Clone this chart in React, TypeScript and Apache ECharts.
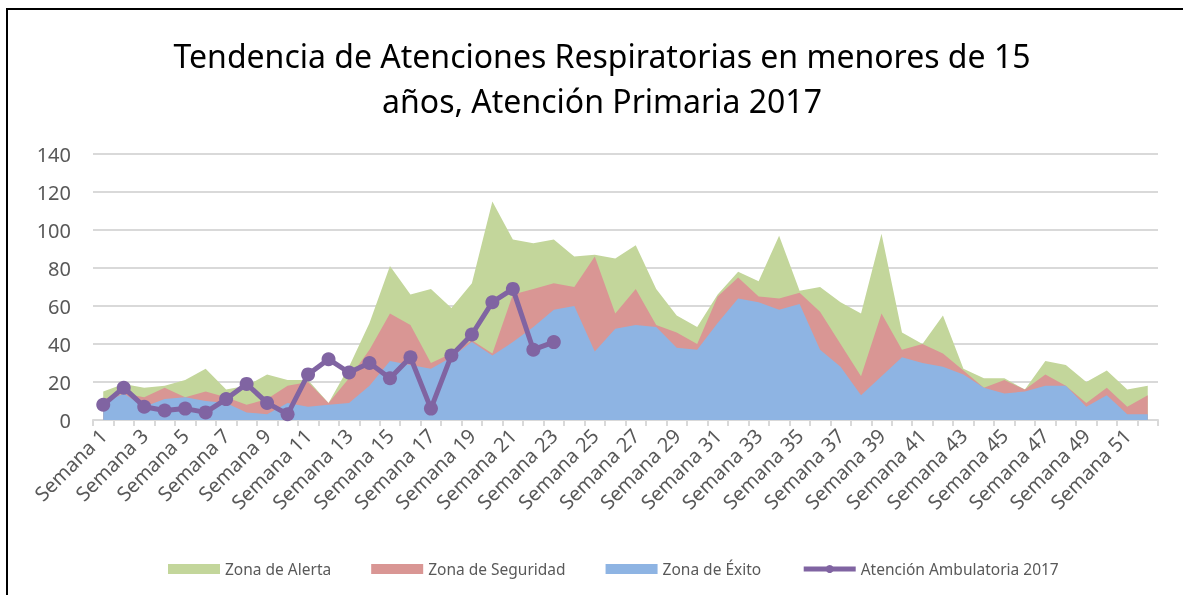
import React, { useEffect, useRef } from "react";
import * as echarts from "echarts";

const titleLines = ["Tendencia de Atenciones Respiratorias en menores de 15", "años, Atención Primaria 2017"];

const weeks: string[] = Array.from({ length: 52 }, (_, i) => `Semana ${i + 1}`);

const zonaAlerta = [15, 19, 17, 18, 21, 27, 16, 18, 24, 21, 21, 9, 28, 51, 81, 66, 69, 59, 72, 115, 95, 93, 95, 86, 87, 85, 92, 69, 55, 49, 66, 78, 73, 97, 68, 70, 62, 56, 98, 46, 40, 55, 27, 22, 22, 16, 31, 29, 20, 26, 16, 18];
const zonaSeguridad = [11, 14, 12, 17, 12, 15, 12, 8, 11, 18, 20, 9, 22, 37, 56, 50, 30, 35, 42, 35, 66, 69, 72, 70, 86, 56, 69, 50, 46, 40, 65, 75, 65, 64, 67, 57, 40, 23, 56, 37, 40, 35, 26, 17, 21, 16, 24, 18, 9, 17, 7, 13];
const zonaExito = [9, 14, 7, 11, 12, 10, 9, 4, 3, 9, 7, 8, 9, 18, 31, 29, 27, 33, 41, 34, 41, 49, 58, 60, 36, 48, 50, 49, 38, 37, 51, 64, 62, 58, 61, 37, 28, 13, 23, 33, 30, 28, 24, 17, 14, 15, 18, 18, 7, 13, 3, 3];
const atencion2017 = [8, 17, 7, 5, 6, 4, 11, 19, 9, 3, 24, 32, 25, 30, 22, 33, 6, 34, 45, 62, 69, 37, 41];

const FONT = "'Noto Sans', 'Open Sans', sans-serif";

export default function App() {
  const ref = useRef<HTMLDivElement>(null);
  useEffect(() => {
    if (!ref.current) return;
    const chart = echarts.init(ref.current, undefined, { renderer: "svg" });
    const area = (name: string, data: number[], color: string) => ({
      name,
      type: "line",
      data,
      symbol: "none",
      lineStyle: { width: 0, color },
      itemStyle: { color },
      areaStyle: { color, opacity: 1 },
    });
    chart.setOption({
      animation: false,
      textStyle: { fontFamily: FONT },
      graphic: [
        {
          type: "rect",
          shape: { x: 7, y: 9, width: 1200, height: 620 },
          style: { fill: "none", stroke: "#000", lineWidth: 2 },
          silent: true,
        },
        {
          type: "text",
          x: 602,
          y: 55,
          style: { text: titleLines[0], fontSize: 32, fontFamily: FONT, fill: "#000", align: "center", verticalAlign: "middle" },
        },
        {
          type: "text",
          x: 602,
          y: 100,
          style: { text: titleLines[1], fontSize: 32, fontFamily: FONT, fill: "#000", align: "center", verticalAlign: "middle" },
        },
      ],
      grid: { left: 93, right: 25, top: 154, bottom: 175, containLabel: false },
      legend: {
        left: 163,
        top: 556,
        itemWidth: 52,
        itemHeight: 10,
        itemGap: 40,
        textStyle: { color: "#595959", fontSize: 15.5, fontFamily: FONT },
        data: [
          { name: "Zona de Alerta", icon: "rect" },
          { name: "Zona de Seguridad", icon: "rect" },
          { name: "Zona de Éxito", icon: "rect" },
          { name: "Atención Ambulatoria 2017", lineStyle: { width: 5 } },
        ],
      },
      xAxis: {
        type: "category",
        data: weeks,
        boundaryGap: true,
        axisLine: { lineStyle: { color: "#d9d9d9", width: 2 } },
        axisTick: { show: true, interval: 0, length: 6, lineStyle: { color: "#d9d9d9", width: 2 } },
        axisLabel: { interval: 1, rotate: 45, color: "#595959", fontSize: 20, margin: 12, fontFamily: FONT },
      },
      yAxis: {
        type: "value",
        min: 0,
        max: 140,
        interval: 20,
        axisLine: { show: false },
        axisTick: { show: false },
        axisLabel: { color: "#595959", fontSize: 20, margin: 22, fontFamily: FONT },
        splitLine: { lineStyle: { color: "#d9d9d9", width: 2 } },
      },
      series: [
        area("Zona de Alerta", zonaAlerta, "#c3d69b"),
        area("Zona de Seguridad", zonaSeguridad, "#d99694"),
        area("Zona de Éxito", zonaExito, "#8eb4e3"),
        {
          name: "Atención Ambulatoria 2017",
          type: "line",
          data: atencion2017,
          symbol: "circle",
          symbolSize: 14,
          showAllSymbol: true,
          lineStyle: { width: 5, color: "#8064a2" },
          itemStyle: { color: "#8064a2" },
          z: 5,
        },
      ],
    });
    return () => chart.dispose();
  }, []);
  return <div ref={ref} style={{ position: "fixed", left: 0, top: 0, width: 1183, height: 595 }} />;
}
